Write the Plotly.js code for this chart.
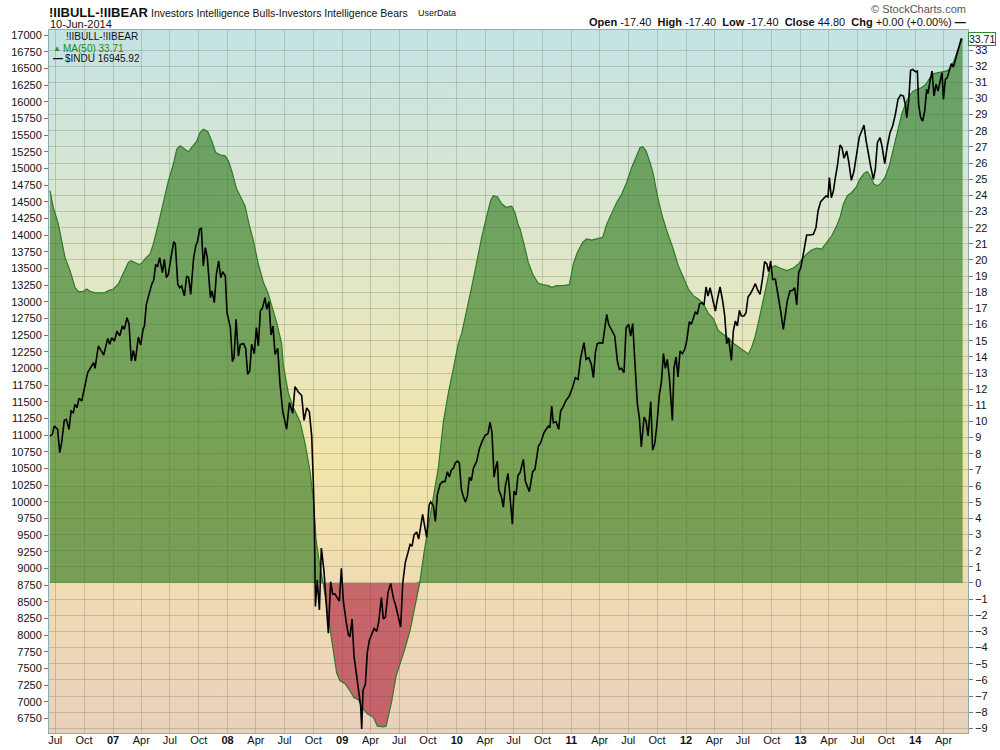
<!DOCTYPE html>
<html>
<head>
<meta charset="utf-8">
<script src="https://cdn.plot.ly/plotly-3.0.1.min.js"></script>
<style>
  body { margin: 0; background: #fff; }
  #chart { width: 1000px; height: 750px; }
</style>
</head>
<body>
<div id="chart"></div>
<script>
// $INDU weekly closes, x in decimal years
var induT = [
  2006.450,2006.471,2006.488,2006.517,2006.535,2006.552,2006.575,2006.593,2006.616,2006.634,
  2006.654,2006.668,2006.686,2006.703,2006.727,2006.756,2006.779,2006.814,2006.831,2006.843,
  2006.872,2006.895,2006.919,2006.954,2006.971,2006.989,2007.012,2007.035,2007.058,2007.082,
  2007.099,2007.122,2007.140,2007.160,2007.178,2007.195,2007.221,2007.242,2007.262,2007.274,
  2007.291,2007.314,2007.338,2007.355,2007.372,2007.390,2007.407,2007.431,2007.448,2007.466,
  2007.483,2007.506,2007.530,2007.544,2007.565,2007.582,2007.599,2007.623,2007.643,2007.660,
  2007.678,2007.704,2007.722,2007.739,2007.756,2007.771,2007.788,2007.806,2007.823,2007.850,
  2007.864,2007.884,2007.902,2007.922,2007.940,2007.957,2007.980,2007.995,2008.024,2008.042,
  2008.056,2008.074,2008.094,2008.111,2008.140,2008.158,2008.175,2008.193,2008.210,2008.233,
  2008.251,2008.268,2008.286,2008.303,2008.327,2008.341,2008.361,2008.379,2008.396,2008.414,
  2008.437,
  2008.457,2008.481,2008.515,2008.539,2008.568,2008.588,2008.617,2008.646,2008.667,2008.690,
  2008.713,2008.734,2008.748,2008.757,2008.766,2008.783,2008.801,2008.818,2008.841,2008.864,
  2008.879,2008.899,2008.917,2008.937,2008.958,2008.975,2008.993,2009.010,2009.033,2009.054,
  2009.068,2009.086,2009.103,2009.126,2009.144,2009.161,2009.170,2009.182,2009.202,2009.219,
  2009.237,2009.260,2009.278,2009.301,2009.318,2009.342,2009.359,2009.377,2009.400,2009.423,
  2009.446,2009.469,2009.493,2009.510,2009.528,2009.551,2009.574,2009.592,2009.609,2009.627,
  2009.650,2009.667,2009.685,2009.702,2009.720,2009.737,2009.758,2009.772,2009.795,2009.813,
  2009.830,2009.854,2009.877,2009.897,2009.918,2009.935,2009.953,2009.970,2009.987,2010.005,
  2010.022,2010.040,2010.057,2010.075,2010.092,2010.110,2010.127,2010.145,2010.174,2010.197,
  2010.220,2010.246,2010.273,2010.290,2010.307,2010.325,2010.342,2010.354,2010.366,2010.389,
  2010.406,2010.424,2010.447,2010.465,2010.485,2010.499,2010.517,2010.534,
  2010.552,2010.581,2010.598,2010.633,2010.662,2010.682,2010.712,2010.732,2010.761,2010.799,
  2010.813,2010.828,2010.842,2010.866,2010.889,2010.906,2010.924,2010.953,2010.982,2011.011,
  2011.034,2011.058,2011.081,2011.110,2011.128,2011.151,2011.174,2011.192,2011.209,2011.226,
  2011.250,2011.273,2011.290,2011.308,2011.325,2011.354,2011.378,2011.401,2011.418,2011.436,
  2011.459,2011.477,2011.500,2011.517,2011.535,2011.555,2011.576,2011.593,2011.610,2011.634,
  2011.651,2011.669,2011.692,2011.709,2011.727,2011.744,2011.768,2011.785,2011.803,2011.820,
  2011.837,2011.855,2011.866,2011.881,2011.895,2011.913,2011.930,2011.948,2011.968,2011.989,
  2012.006,2012.029,2012.047,2012.064,2012.082,2012.099,2012.117,2012.140,2012.157,2012.175,
  2012.192,2012.210,2012.233,2012.256,2012.274,2012.297,2012.320,2012.338,2012.355,2012.372,
  2012.396,2012.413,2012.431,2012.448,2012.466,2012.483,2012.506,2012.524,2012.541,2012.559,
  2012.582,2012.605,2012.623,
  2012.646,2012.669,2012.686,2012.704,2012.721,2012.739,2012.756,2012.780,2012.803,2012.826,
  2012.849,2012.867,2012.884,2012.907,2012.931,2012.948,2012.966,2012.983,2013.001,2013.018,
  2013.035,2013.053,2013.082,2013.111,2013.134,2013.152,2013.175,2013.198,2013.222,2013.239,
  2013.251,2013.268,2013.286,2013.303,2013.321,2013.344,2013.361,2013.379,2013.402,2013.419,
  2013.443,2013.466,2013.489,2013.512,2013.536,2013.553,2013.571,2013.594,2013.611,2013.635,
  2013.652,2013.670,2013.693,2013.710,2013.734,2013.757,2013.780,2013.803,2013.827,2013.850,
  2013.873,2013.897,2013.914,2013.926,2013.943,2013.960,2013.978,2014.001,2014.019,2014.030,
  2014.048,2014.065,2014.083,2014.100,2014.112,2014.129,2014.147,2014.164,2014.181,2014.199,
  2014.216,2014.234,2014.246,2014.263,2014.280,2014.298,2014.315,2014.333,2014.350,2014.368,
  2014.385,2014.403
];
var induClose = [
  10985,11010,11135,11085,10735,10885,11220,11235,11085,11360,
  11335,11460,11410,11550,11510,11760,11935,12035,12085,12000,
  12335,12270,12200,12450,12360,12460,12410,12560,12485,12635,
  12585,12760,12660,12110,12270,12110,12470,12350,12585,12635,
  12960,13110,13260,13320,13550,13535,13660,13435,13635,13360,
  13410,13660,13900,13860,13260,13210,13235,13085,13385,13360,
  13110,13660,13835,13910,14085,14100,13535,13810,13660,13060,
  13160,12985,13410,13610,13360,13450,13385,12835,12610,12100,
  12160,12735,12185,12360,12370,12300,11910,11960,12360,12220,
  12610,12335,12860,12900,13060,12885,13000,12500,12635,12210,
  12300,
  11778,11353,11087,11486,11326,11725,11645,11592,11220,11406,
  11353,10980,10289,9704,8427,8826,8374,9305,8959,8427,
  8028,8800,8613,8613,8560,8507,9002,8507,8214,8002,
  7975,8241,7683,7363,7151,6938,6592,7177,7257,7736,
  7922,8028,8097,8055,8188,8560,8241,8268,8640,8773,
  8560,8427,8241,8119,8773,9092,9236,9358,9331,9502,
  9544,9438,9624,9810,9624,9464,9943,9996,9943,9704,
  10103,10262,10300,10300,10448,10369,10475,10502,10581,10608,
  10581,10183,10076,9996,10076,10369,10315,10502,10608,10794,
  10901,10991,11023,11193,11034,10369,10528,10608,10183,10076,
  9917,10236,10422,10023,9661,10156,10103,10395,
  10435,10635,10310,10150,10450,10485,10835,10885,11035,11135,
  11120,11435,11185,11200,11085,11360,11410,11520,11585,11720,
  11860,11835,12160,12385,12135,12160,12060,11860,12235,12370,
  12385,12375,12560,12810,12660,12570,12485,12110,11985,12000,
  11935,12610,12660,12485,12670,12060,11460,11260,10820,11270,
  11210,10985,11500,10770,10870,11120,11610,11785,12220,12000,
  12135,11860,11560,11220,12000,12170,11870,12260,12220,12285,
  12410,12700,12660,12760,12850,12810,12960,12985,12950,13220,
  13085,13210,13050,12860,13035,13220,13010,12785,12370,12450,
  12120,12560,12710,12635,12870,12785,12785,12835,13070,13110,
  13185,13270,13185,
  13110,13360,13600,13570,13450,13610,13335,13335,13110,12860,
  12585,12835,13010,13160,13170,13210,12950,13435,13510,13660,
  13860,14000,14000,14010,14110,14360,14500,14535,14585,14570,
  14860,14560,14660,14860,15035,15350,15310,15150,15260,15110,
  14820,14960,15220,15470,15570,15650,15420,15160,15035,14835,
  14985,15385,15460,15335,15070,15335,15535,15635,15810,16035,
  16100,16085,15960,15760,16010,16470,16485,16450,16460,15960,
  15760,15710,15860,16185,16120,16310,16460,16085,16260,16160,
  16310,16435,16035,16335,16360,16485,16570,16520,16620,16735,
  16860,16950
];

// MA(50) of Investors Intelligence Bulls - Bears spread
var maT = [
  2006.450,2006.479,2006.523,2006.552,2006.581,2006.625,2006.668,2006.698,2006.741,2006.770,
  2006.799,2006.843,2006.887,2006.930,2006.959,2007.003,2007.047,2007.076,2007.105,2007.134,
  2007.157,2007.192,2007.227,2007.256,2007.285,2007.323,2007.352,2007.396,2007.439,2007.483,
  2007.527,2007.556,2007.585,2007.628,2007.658,2007.687,2007.730,2007.759,2007.788,2007.826,
  2007.861,2007.896,2007.934,2007.978,2008.007,2008.036,2008.079,2008.123,2008.152,2008.187,
  2008.225,2008.268,2008.312,2008.350,2008.385,2008.428,2008.472,
  2008.486,2008.530,2008.574,2008.632,2008.675,2008.719,2008.748,2008.771,2008.801,2008.835,
  2008.864,2008.894,2008.923,2008.952,2008.981,2009.025,2009.068,2009.103,2009.141,2009.179,
  2009.219,2009.272,2009.307,2009.359,2009.383,2009.403,2009.432,2009.469,2009.510,2009.548,
  2009.592,2009.636,2009.679,2009.714,2009.752,2009.795,2009.839,2009.883,2009.926,2009.970,
  2010.013,2010.043,2010.086,2010.130,2010.174,2010.217,2010.261,2010.296,2010.319,2010.354,
  2010.392,2010.429,2010.479,2010.508,2010.537,
  2010.552,2010.586,2010.624,2010.668,2010.712,2010.749,2010.799,2010.828,2010.872,2010.924,
  2010.982,2011.017,2011.052,2011.098,2011.133,2011.177,2011.221,2011.273,2011.308,2011.352,
  2011.395,2011.439,2011.482,2011.526,2011.570,2011.599,2011.622,2011.651,2011.686,2011.715,
  2011.750,2011.788,2011.832,2011.884,2011.933,2011.977,2012.021,2012.064,2012.108,2012.151,
  2012.195,2012.239,2012.282,2012.326,2012.370,2012.413,2012.457,2012.501,2012.544,2012.573,
  2012.602,2012.632,
  2012.675,2012.704,2012.733,2012.777,2012.820,2012.878,2012.937,2012.980,2013.009,2013.053,
  2013.096,2013.140,2013.184,2013.227,2013.271,2013.309,2013.344,2013.373,2013.408,2013.446,
  2013.483,2013.518,2013.553,2013.582,2013.611,2013.640,2013.670,2013.699,2013.736,2013.774,
  2013.809,2013.844,2013.882,2013.920,2013.949,2013.984,2014.019,2014.057,2014.094,2014.129,
  2014.164,2014.202,2014.240,2014.275,2014.310,2014.339,2014.368,2014.391,2014.414
];
var maVal = [
  24.29,23.26,22.22,21.19,20.16,19.34,18.31,18.04,18.06,18.20,
  18.06,17.96,17.96,17.98,18.10,18.20,18.51,18.93,19.44,19.85,
  19.96,19.85,19.71,19.85,20.12,20.37,20.99,22.24,23.57,24.90,
  25.94,26.86,27.07,26.86,26.70,26.97,27.34,27.89,28.10,27.96,
  27.38,26.66,26.51,26.45,26.14,25.52,24.39,23.77,23.36,22.22,
  21.19,19.75,18.62,18.00,17.17,16.14,14.80,
  13.50,11.75,10.87,9.99,8.68,6.92,5.17,2.75,1.22,-0.05,
  -1.41,-2.95,-4.48,-5.58,-6.06,-6.24,-6.68,-7.11,-7.22,-7.77,
  -8.10,-8.32,-8.87,-8.91,-8.87,-8.21,-7.33,-5.80,-4.92,-4.04,
  -2.95,-1.41,0.12,1.88,3.41,5.17,7.14,9.99,11.75,13.28,
  14.82,15.47,16.79,18.33,19.86,21.40,22.71,23.70,23.98,23.92,
  23.48,23.26,23.33,22.93,22.16,
  21.92,20.99,19.85,19.03,18.56,18.47,18.41,18.31,18.41,18.41,
  18.47,19.75,20.47,21.09,21.30,21.23,21.30,21.40,22.22,22.95,
  23.56,24.08,24.80,25.73,26.45,26.97,27.01,26.76,26.04,25.32,
  23.98,22.84,21.81,20.78,19.65,18.93,18.20,17.79,17.58,17.28,
  16.70,16.35,15.63,15.38,15.17,14.84,14.60,14.39,14.18,14.60,
  15.22,16.14,
  17.48,18.51,19.50,19.65,19.50,19.34,19.50,19.75,20.00,20.37,
  20.62,20.74,20.68,21.09,21.50,22.02,22.64,23.46,23.98,24.18,
  24.49,25.01,25.36,25.48,25.15,24.70,24.60,24.74,25.11,25.83,
  26.86,28.00,29.03,29.75,30.16,30.47,30.57,30.68,30.88,31.29,
  31.54,31.60,31.67,31.71,31.91,32.33,32.94,33.36,33.71
];

// quarterly ticks on the time axis
var xTickVals = [
  2006.496,2006.748,
  2007,2007.247,2007.496,2007.748,
  2008,2008.247,2008.496,2008.748,
  2009,2009.247,2009.496,2009.748,
  2010,2010.247,2010.496,2010.748,
  2011,2011.247,2011.496,2011.748,
  2012,2012.247,2012.496,2012.748,
  2013,2013.247,2013.496,2013.748,
  2014,2014.247
];
var xTickText = [
  'Jul','Oct',
  '<b>07</b>','Apr','Jul','Oct',
  '<b>08</b>','Apr','Jul','Oct',
  '<b>09</b>','Apr','Jul','Oct',
  '<b>10</b>','Apr','Jul','Oct',
  '<b>11</b>','Apr','Jul','Oct',
  '<b>12</b>','Apr','Jul','Oct',
  '<b>13</b>','Apr','Jul','Oct',
  '<b>14</b>','Apr'
];
var rightTicks = [-9,-8,-7,-6,-5,-4,-3,-2,-1,0,1,2,3,4,5,6,7,8,9,10,11,12,13,14,15,16,
  17,18,19,20,21,22,23,24,25,26,27,28,29,30,31,32,33];

// background gradient of the plot area
function makeBackground() {
  var c = document.createElement('canvas');
  c.width = 8; c.height = 703;
  var g = c.getContext('2d');
  var grad = g.createLinearGradient(0, 0, 0, 703);
  grad.addColorStop(0.00, '#c4e3e4');
  grad.addColorStop(0.20, '#d7e6d4');
  grad.addColorStop(0.45, '#e8e6bd');
  grad.addColorStop(0.62, '#f2e5a9');
  grad.addColorStop(0.80, '#f0dbb4');
  grad.addColorStop(1.00, '#e9d1bd');
  g.fillStyle = grad;
  g.fillRect(0, 0, 8, 703);
  return c.toDataURL('image/png');
}

var maAbove = maVal.map(function (v) { return Math.max(v, 0); });
var maBelow = maVal.map(function (v) { return Math.min(v, 0); });

var font = 'Liberation Sans, Arial, sans-serif';
var gridCol = 'rgba(80,100,70,0.25)';
var frameCol = '#8fabb3';

var greenFill = {
  x: maT, y: maAbove,
  mode: 'lines', line: {width: 0},
  fill: 'tozeroy', fillcolor: 'rgba(45,120,30,0.62)',
  yaxis: 'y', showlegend: false
};
var redFill = {
  x: maT, y: maBelow,
  mode: 'lines', line: {width: 0},
  fill: 'tozeroy', fillcolor: 'rgba(170,25,55,0.6)',
  yaxis: 'y', showlegend: false
};
var maLine = {
  x: maT, y: maVal,
  mode: 'lines', line: {color: '#2f7a25', width: 1.2},
  yaxis: 'y', showlegend: false
};
var indu = {
  x: induT, y: induClose,
  mode: 'lines', line: {color: '#000000', width: 1.6},
  yaxis: 'y2', showlegend: false
};

// plot area is 49..968 by 30..733 px
function px(x) { return (x - 49) / 919; }
function py(y) { return (733 - y) / 703; }

function note(text, x, y, size, extra) {
  var a = {
    text: text, xref: 'paper', yref: 'paper', x: px(x), y: py(y),
    xanchor: 'left', yanchor: 'middle', showarrow: false,
    font: {family: font, size: size, color: '#111'}
  };
  for (var k in extra) a[k] = extra[k];
  return a;
}

var annotations = [
  note('<b>!IIBULL-!IIBEAR</b>', 47, 12, 13),
  note('Investors Intelligence Bulls-Investors Intelligence Bears', 149, 13, 10.5),
  note('UserData', 416, 13, 9),
  note('10-Jun-2014', 48, 24, 11),
  note('© StockCharts.com', 968, 9, 11, {xanchor: 'right', font: {family: font, size: 11, color: '#555'}}),
  note('<b>Open</b> -17.40  <b>High</b> -17.40  <b>Low</b> -17.40  <b>Close</b> 44.80  <b>Chg</b> +0.00 (+0.00%) <b>—</b>',
       968, 22, 11, {xanchor: 'right'}),
  note('!IIBULL-!IIBEAR', 64, 37, 10),
  note('▲', 51, 48, 8, {font: {family: font, size: 8, color: '#2e8b2e'}}),
  note('MA(50) 33.71', 61, 48, 10, {font: {family: font, size: 10, color: '#1b8a1b'}}),
  note('<b>—</b>', 51, 58, 10),
  note('$INDU 16945.92', 63, 58, 10),
  {
    text: '33.71', xref: 'paper', yref: 'y', x: px(968), y: 33.71,
    xanchor: 'left', yanchor: 'middle', showarrow: false,
    bordercolor: '#2e8b2e', borderwidth: 1, borderpad: 0, bgcolor: '#ffffff',
    font: {family: font, size: 10.5, color: '#111'}
  }
];

var layout = {
  width: 1000,
  height: 750,
  margin: {l: 49, r: 32, t: 30, b: 17},
  paper_bgcolor: '#ffffff',
  plot_bgcolor: 'rgba(0,0,0,0)',
  hovermode: false,
  showlegend: false,
  font: {family: font, size: 11, color: '#111'},
  images: [{
    source: makeBackground(),
    xref: 'paper', yref: 'paper', x: 0, y: 1, sizex: 1, sizey: 1,
    sizing: 'stretch', layer: 'below'
  }],
  xaxis: {
    range: [2006.4415, 2014.4607],
    tickmode: 'array', tickvals: xTickVals, ticktext: xTickText,
    showgrid: true, gridcolor: gridCol, gridwidth: 1,
    zeroline: false,
    showline: true, linecolor: frameCol, linewidth: 1, mirror: true,
    ticks: '', ticklabelstandoff: -3,
    tickfont: {family: font, size: 11, color: '#111'}
  },
  yaxis: {
    side: 'right',
    range: [-9.29, 34.24],
    tickmode: 'array', tickvals: rightTicks,
    showgrid: true, gridcolor: gridCol, gridwidth: 1,
    zeroline: false,
    showline: true, linecolor: frameCol, linewidth: 1,
    ticks: 'outside', ticklen: 4, tickcolor: '#777',
    tickfont: {family: font, size: 11, color: '#111'}
  },
  yaxis2: {
    overlaying: 'y', side: 'left',
    range: [6530, 17075],
    tick0: 0, dtick: 250, tickformat: 'd',
    showgrid: false, zeroline: false,
    showline: true, linecolor: frameCol, linewidth: 1,
    ticks: 'outside', ticklen: 4, tickcolor: '#777',
    tickfont: {family: font, size: 11, color: '#111'}
  },
  annotations: annotations
};

Plotly.newPlot('chart', [greenFill, redFill, maLine, indu], layout, {staticPlot: true});
</script>
</body>
</html>
